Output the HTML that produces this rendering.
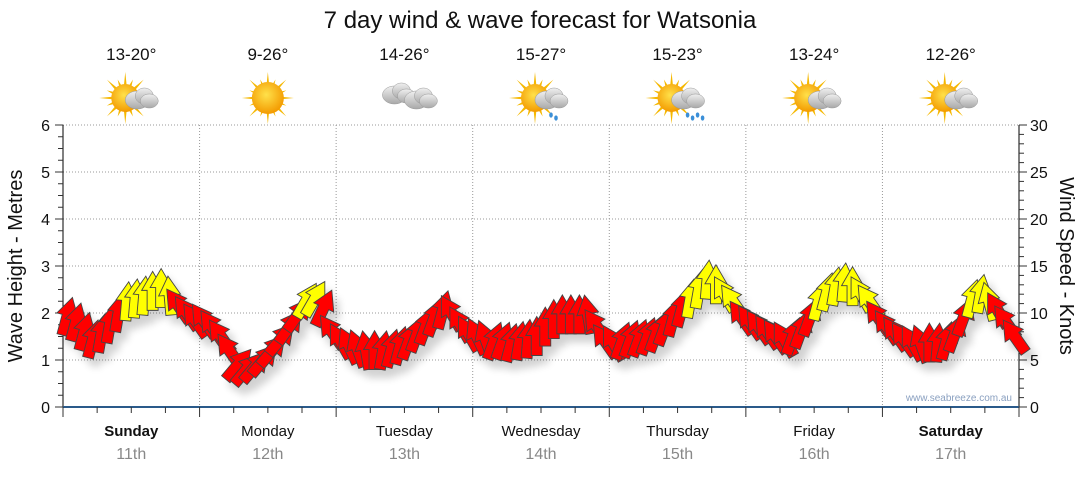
<!DOCTYPE html>
<html><head><meta charset="utf-8"><style>
body{margin:0;background:#fff;font-family:"Liberation Sans",sans-serif}
svg text{font-family:"Liberation Sans",sans-serif}
</style></head><body>
<svg id="c" width="1080" height="475">
<defs>
<filter id="sh" x="-50%" y="-50%" width="200%" height="200%"><feGaussianBlur in="SourceAlpha" stdDeviation="4"/><feOffset dx="6" dy="8"/><feComponentTransfer><feFuncA type="linear" slope="0.18"/></feComponentTransfer><feMerge><feMergeNode/><feMergeNode in="SourceGraphic"/></feMerge></filter>
<radialGradient id="sun" cx="0.45" cy="0.4" r="0.6"><stop offset="0" stop-color="#ffe14a"/><stop offset="1" stop-color="#f39a00"/></radialGradient>
<linearGradient id="cl" x1="0" y1="0" x2="0" y2="1"><stop offset="0" stop-color="#f0f0f0"/><stop offset="1" stop-color="#a8a8a8"/></linearGradient>
</defs>
<text x="540" y="28" font-size="24" text-anchor="middle" fill="#111">7 day wind &amp; wave forecast for Watsonia</text>
<g id="grid"></g><g id="axes"></g><g id="icons"></g><g id="arrows" filter="url(#sh)"></g>
<text x="1012" y="401" font-size="10" text-anchor="end" fill="#8aa0c0">www.seabreeze.com.au</text>
<text transform="translate(22,266) rotate(-90)" font-size="20" text-anchor="middle" fill="#111">Wave Height - Metres</text>
<text transform="translate(1060,266) rotate(90)" font-size="20" text-anchor="middle" fill="#111">Wind Speed - Knots</text>
</svg>
<script>
const days=["Sunday","Monday","Tuesday","Wednesday","Thursday","Friday","Saturday"];
const dates=["11th","12th","13th","14th","15th","16th","17th"];
const temps=["13-20°","9-26°","14-26°","15-27°","15-23°","13-24°","12-26°"];
const weather=["partsun","sun","cloud","shower","rain","partsun","partsun"];
const windKnots=[
9.6,9.0,8.0,7.2,7.8,8.8,10.0,11.2,11.5,11.8,12.3,12.6,11.8,10.8,10.0,9.2,
9.2,8.5,7.5,6.0,4.5,4.0,4.3,5.0,6.0,7.2,8.5,9.8,11.3,11.5,10.5,8.0,
7.0,6.5,6.2,6.0,6.0,6.0,6.2,6.5,7.0,7.8,8.6,9.5,10.3,10.0,8.8,7.8,
7.5,7.2,7.0,7.0,6.8,7.0,7.2,7.5,8.5,9.3,9.8,9.8,9.8,9.8,8.6,7.0,
6.8,7.0,7.2,7.3,7.5,7.8,8.5,9.5,10.5,11.5,12.5,13.5,13.0,12.0,11.2,9.5,
9.0,8.5,8.0,7.5,7.2,7.5,8.2,9.5,11.2,12.2,12.8,13.2,12.8,12.0,11.2,9.5,
8.5,7.8,7.2,6.8,6.7,6.8,6.8,7.0,7.8,9.5,11.5,12.0,11.2,10.3,9.0,7.5];
const windDir=[
15,15,15,15,10,10,10,5,5,5,0,0,-5,-35,-35,-35,
-35,-35,-35,-35,40,40,40,40,40,40,35,35,30,30,25,-35,
-30,-25,-20,-10,0,10,15,15,20,20,20,20,15,-30,-30,-30,
-25,-20,20,20,15,10,5,0,0,0,0,0,0,-10,-35,-35,
-30,20,20,20,20,20,20,15,15,10,10,5,0,-30,-35,-35,
-35,-35,-35,-35,-30,20,20,20,15,15,10,5,0,-30,-35,-35,
-35,-35,-35,-30,-20,0,5,15,20,20,15,10,-15,-30,-35,-35];
const X0=63,X1=1019,Y0=407,Y6=125;
const dayW=(X1-X0)/7;
const yM=v=>Y0-(Y0-Y6)*v/6, yK=v=>Y0-(Y0-Y6)*v/30;
const xI=i=>X0+(i+0.5)*(X1-X0)/windKnots.length;
const NS="http://www.w3.org/2000/svg";
function mk(p,t,a){const e=document.createElementNS(NS,t);for(const k in a)e.setAttribute(k,a[k]);p.appendChild(e);return e;}
const grid=document.getElementById('grid'),axes=document.getElementById('axes'),icons=document.getElementById('icons'),arr=document.getElementById('arrows');
for(let v=1;v<=6;v++){const l=mk(grid,'line',{x1:X0,x2:X1,y1:yM(v),y2:yM(v),stroke:'#999','stroke-dasharray':'1,2'});

}
for(let d=1;d<7;d++){const l=mk(grid,'line',{x1:X0+d*dayW,x2:X0+d*dayW,y1:Y6,y2:Y0,stroke:'#999','stroke-dasharray':'1,2'});

}
mk(axes,'line',{x1:X0,x2:X0,y1:Y6,y2:Y0,stroke:'#000'});
mk(axes,'line',{x1:X1,x2:X1,y1:Y6,y2:Y0,stroke:'#000'});
mk(axes,'line',{x1:X0,x2:X1,y1:Y0,y2:Y0,stroke:'#2a5a8a','stroke-width':2});
for(let v=0;v<=24;v++){const y=yM(v/4);mk(axes,'line',{x1:X0-(v%4?5:8),x2:X0,y1:y,y2:y,stroke:'#333'});}
for(let v=0;v<=6;v++){const t=mk(axes,'text',{x:X0-13,y:yM(v)+6,'font-size':16,'text-anchor':'end',fill:'#111'});t.textContent=v;

}
for(let v=0;v<=30;v++){const y=yK(v);mk(axes,'line',{x1:X1,x2:X1+(v%5?5:8),y1:y,y2:y,stroke:'#333'});}
for(let v=0;v<=30;v+=5){const t=mk(axes,'text',{x:X1+11,y:yK(v)+6,'font-size':16,fill:'#111'});t.textContent=v;

}
for(let q=0;q<=28;q++){const x=X0+q*dayW/4;mk(axes,'line',{x1:x,x2:x,y1:Y0,y2:Y0+(q%4?6:10),stroke:'#333'});}
days.forEach((d,i)=>{const cx=X0+(i+0.5)*dayW;
const t=mk(axes,'text',{x:cx,y:436,'font-size':15,'text-anchor':'middle',fill:'#111','font-weight':(i==0||i==6)?'bold':'normal'});t.textContent=d;


const t2=mk(axes,'text',{x:cx,y:459,'font-size':16,'text-anchor':'middle',fill:'#888'});t2.textContent=dates[i];


const t3=mk(icons,'text',{x:cx,y:60,'font-size':17,'text-anchor':'middle',fill:'#111'});t3.textContent=temps[i];


const g=mk(icons,'g',{transform:`translate(${cx},98)`});


const w=weather[i];
if(w!='cloud'){const sx=w=='sun'?0:-6;
for(let r=0;r<16;r++){const a=r*Math.PI/8,L=r%2?20:26;mk(g,'polygon',{points:`${sx+Math.cos(a-0.12)*12},${Math.sin(a-0.12)*12} ${sx+Math.cos(a)*L},${Math.sin(a)*L} ${sx+Math.cos(a+0.12)*12},${Math.sin(a+0.12)*12}`,fill:'#f5b800'});}
mk(g,'circle',{cx:sx,cy:0,r:w=='sun'?16:14,fill:'url(#sun)'});}
if(w!='sun'){const ox=w=='cloud'?-10:6,oy=w=='cloud'?-3:2;
const cg=mk(g,'g',{});
[[ox,oy,12,9],[ox+7,oy-4,9,8],[ox+12,oy+1,9,7]].forEach(c=>mk(cg,'ellipse',{cx:c[0],cy:c[1],rx:c[2],ry:c[3],fill:'url(#cl)',stroke:'#999','stroke-width':0.5}));
if(w=='cloud'){[[12,2,12,9],[19,-2,9,8],[24,3,9,7]].forEach(c=>mk(cg,'ellipse',{cx:c[0],cy:c[1],rx:c[2],ry:c[3],fill:'url(#cl)',stroke:'#999','stroke-width':0.5}));}
if(w=='shower'||w=='rain'){const n=w=='rain'?4:2;for(let k=0;k<n;k++)mk(g,'ellipse',{cx:ox+4+k*5,cy:oy+15+(k%2)*3,rx:1.8,ry:2.6,fill:'#3b8fd8'});}}
});
windKnots.forEach((v,i)=>{const x=xI(i),y=yK(v);
const p=mk(arr,'polygon',{points:'0,-20 11,-1 5.5,-1 5.5,19 -5.5,19 -5.5,-1 -11,-1',transform:`translate(${x},${y}) rotate(${windDir[i]})`,fill:v>=11?'#ffff00':'#ff0000',stroke:'#444','stroke-width':0.9,'stroke-linejoin':'miter'});

});
</script>
</body></html>
